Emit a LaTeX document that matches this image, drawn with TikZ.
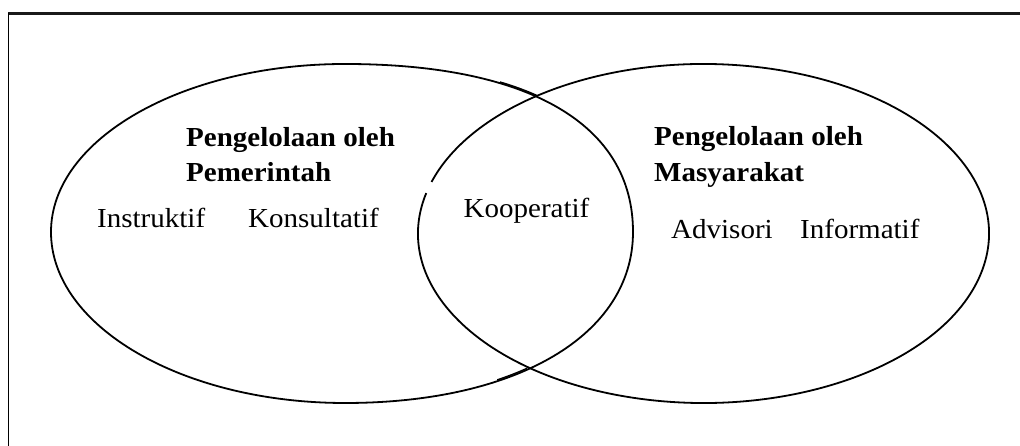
\documentclass[tikz,border=0pt]{standalone}
\usepackage{fontspec}
\setmainfont[FakeStretch=1.055]{Liberation Serif}
\begin{document}
\begin{tikzpicture}[x=1pt,y=1pt,
  outline/.style={line width=1.8pt, black},
  framestyle/.style={line width=2.2pt, black!90},
  lbl/.style={inner sep=0pt, anchor=base west, font=\fontsize{27.5}{33}\selectfont},
  hd/.style={inner sep=0pt, anchor=base west, font=\fontsize{27.5}{33}\selectfont\bfseries}]
\useasboundingbox (0,0) rectangle (1020,446);
% frame (top and left edges visible)
\coordinate (f0) at (8.3,432.5);
\coordinate (f1) at (1020,432.5);
\coordinate (f2) at (8.3,0);
\draw[framestyle] (f1) -- (f0);
\draw[line width=1.4pt] (f0) -- (f2);
% left shape
\coordinate (L) at (51,214);
\coordinate (T) at (345,382);
\coordinate (R) at (633,214);
\coordinate (B) at (345,43);
\draw[outline] (L) .. controls (51,306.8) and (182.6,382) .. (T)
  .. controls (529.3,382) and (633,321.5) .. (R)
  .. controls (633,111.4) and (517.8,43) .. (B)
  .. controls (182.6,43) and (51,119.6) .. (L) -- cycle;
% small doubled strokes on the left shape
\begin{scope}
  \clip (500,330) rectangle (537,370);
  \draw[outline, line width=1.4pt, yshift=1.8pt] (T) .. controls (529.3,382) and (633,321.5) .. (R);
\end{scope}
\begin{scope}
  \clip (497,60) rectangle (527,90);
  \draw[outline, line width=1.4pt, yshift=2pt] (R) .. controls (633,111.4) and (517.8,43) .. (B);
\end{scope}
% right ellipse with a small break on its left side
\coordinate (rc) at (703.5,212.5);
\draw[outline] (rc) ++(166.2:285.5 and 169.5)
  arc[start angle=166.2, end angle=522.3, x radius=285.5, y radius=169.5];
% texts
\node[hd] (g1) at (186,299.5) {Pengelolaan oleh};
\node[hd] (g2) at (186,264.3) {Pemerintah};
\node[lbl] (ins) at (97,218.5) {Instruktif};
\node[lbl] (kon) at (248,218.5) {Konsultatif};
\node[lbl] (koo) at (463.5,228) {Kooperatif};
\node[hd] (m1) at (654,300) {Pengelolaan oleh};
\node[hd] (m2) at (654,264.3) {Masyarakat};
\node[lbl] (adv) at (671,207) {Advisori};
\node[lbl] (inf) at (800,207) {Informatif};
\end{tikzpicture}
\end{document}
